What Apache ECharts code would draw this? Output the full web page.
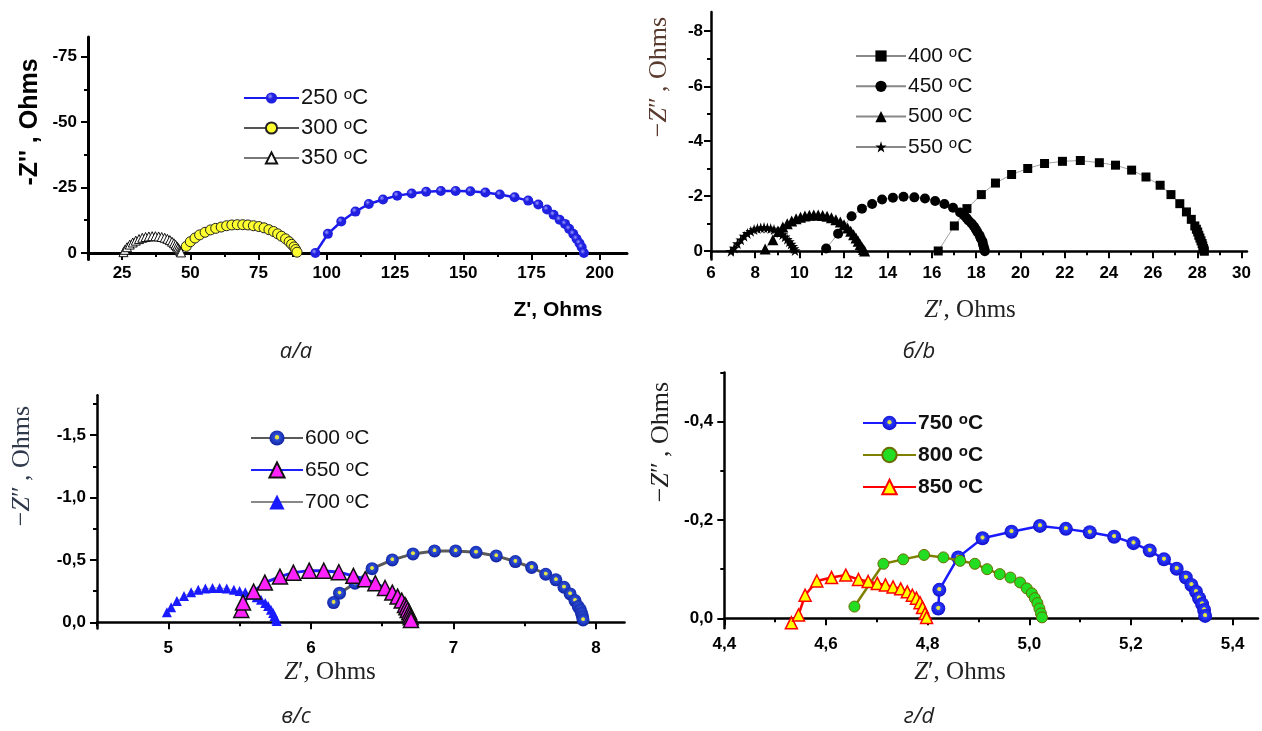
<!DOCTYPE html>
<html>
<head>
<meta charset="utf-8">
<script src="https://cdn.jsdelivr.net/npm/echarts@6/dist/echarts.min.js"></script>
<style>
html,body{margin:0;padding:0;background:#fff}
#main{width:1262px;height:731px}
</style>
</head>
<body>
<div id="main"></div>
<script>
// a/a : 250-350 oC, Z' and Z'' in Ohms
var a250 = [[95.8,0],[100.4,-7.3],[105.3,-12.0],[110.5,-15.8],[115.4,-18.7],[120.6,-20.4],[125.8,-21.9],[131.1,-22.7],[136.4,-23.4],[141.8,-23.7],[147.2,-23.7],[152.6,-23.6],[158.1,-23.1],[163.4,-22.3],[168.8,-21.3],[173.8,-20.0],[177.5,-18.5],[180.7,-16.6],[183.1,-14.6],[185.3,-12.7],[187.3,-11.1],[188.8,-9.2],[190.3,-7.3],[191.5,-5.4],[192.6,-3.7],[193.4,-2.2],[194.2,0]];
var a300 = [[48.5,-2.5],[50.0,-4.3],[51.7,-5.7],[53.4,-6.9],[55.4,-7.9],[57.4,-8.8],[59.3,-9.4],[61.3,-9.9],[63.3,-10.4],[65.2,-10.7],[67.2,-10.8],[69.2,-10.8],[71.1,-10.7],[73.1,-10.4],[75.1,-10.1],[77.0,-9.6],[78.8,-8.9],[80.5,-8.2],[82.0,-7.3],[83.4,-6.4],[84.9,-5.4],[86.2,-4.3],[87.1,-3.3],[88.0,-2.3],[88.6,-1.3],[89.1,-0.3]];
var a350 = [[25.5,-0.3],[26.0,-1.2],[26.8,-2.2],[27.8,-3.2],[28.9,-4.0],[30.0,-4.7],[31.2,-5.3],[32.4,-5.8],[33.6,-6.1],[34.8,-6.3],[36.0,-6.4],[37.2,-6.4],[38.4,-6.3],[39.5,-6.1],[40.6,-5.8],[41.6,-5.4],[42.5,-4.9],[43.3,-4.3],[44.0,-3.7],[44.6,-3.1],[45.1,-2.5],[45.5,-1.9],[45.9,-1.4],[46.2,-0.9],[46.4,-0.5],[46.6,-0.2]];

// б/b : 400-550 oC
var b400 = [[16.28,-0.01],[17.01,-0.92],[17.58,-1.55],[18.23,-2.06],[18.87,-2.48],[19.60,-2.79],[20.33,-3.01],[21.09,-3.19],[21.90,-3.27],[22.71,-3.30],[23.57,-3.22],[24.30,-3.13],[25.03,-2.95],[25.68,-2.70],[26.32,-2.40],[26.81,-2.06],[27.21,-1.73],[27.51,-1.43],[27.73,-1.16],[27.89,-0.92],[27.96,-0.80],[28.02,-0.70],[28.07,-0.58],[28.12,-0.48],[28.17,-0.38],[28.22,-0.28],[28.25,-0.19],[28.28,-0.10],[28.30,-0.05],[28.32,0]];
var b450 = [[11.21,-0.10],[11.75,-0.64],[12.36,-1.27],[12.83,-1.55],[13.29,-1.72],[13.74,-1.88],[14.23,-1.95],[14.71,-1.98],[15.20,-1.96],[15.68,-1.92],[16.14,-1.83],[16.56,-1.72],[16.95,-1.58],[17.27,-1.41],[17.45,-1.30],[17.56,-1.21],[17.65,-1.12],[17.79,-1.01],[17.90,-0.90],[17.98,-0.80],[18.05,-0.70],[18.15,-0.58],[18.20,-0.47],[18.28,-0.36],[18.30,-0.26],[18.34,-0.16],[18.37,-0.07],[18.39,0]];
var b500 = [[8.45,-0.08],[8.80,-0.42],[9.05,-0.72],[9.25,-0.88],[9.45,-1.00],[9.65,-1.10],[9.85,-1.18],[10.05,-1.24],[10.25,-1.28],[10.45,-1.31],[10.65,-1.32],[10.85,-1.32],[11.05,-1.30],[11.25,-1.27],[11.45,-1.22],[11.65,-1.15],[11.85,-1.06],[12.02,-0.96],[12.18,-0.85],[12.32,-0.73],[12.45,-0.60],[12.56,-0.48],[12.66,-0.36],[12.75,-0.25],[12.83,-0.15],[12.90,-0.06],[12.95,-0.01]];
var b550 = [[6.90,0],[7.05,-0.12],[7.20,-0.28],[7.35,-0.42],[7.50,-0.55],[7.65,-0.65],[7.80,-0.73],[7.95,-0.79],[8.10,-0.83],[8.25,-0.85],[8.40,-0.86],[8.55,-0.85],[8.70,-0.83],[8.85,-0.79],[9.00,-0.74],[9.12,-0.68],[9.24,-0.61],[9.35,-0.53],[9.45,-0.44],[9.54,-0.35],[9.62,-0.26],[9.69,-0.18],[9.75,-0.10],[9.80,-0.03]];

// в/c : 600-700 oC
var c600 = [[6.159,-0.158],[6.201,-0.233],[6.309,-0.313],[6.429,-0.430],[6.571,-0.500],[6.716,-0.548],[6.867,-0.572],[7.015,-0.572],[7.158,-0.561],[7.300,-0.532],[7.434,-0.487],[7.548,-0.439],[7.647,-0.385],[7.718,-0.340],[7.775,-0.281],[7.818,-0.227],[7.852,-0.174],[7.875,-0.126],[7.890,-0.100],[7.898,-0.072],[7.905,-0.045],[7.909,-0.019]];
var c650 = [[5.512,-0.099],[5.524,-0.158],[5.598,-0.246],[5.677,-0.318],[5.783,-0.366],[5.877,-0.398],[5.988,-0.414],[6.090,-0.414],[6.196,-0.401],[6.298,-0.372],[6.381,-0.345],[6.452,-0.313],[6.520,-0.275],[6.571,-0.238],[6.608,-0.206],[6.637,-0.174],[6.660,-0.139],[6.670,-0.120],[6.679,-0.099],[6.690,-0.080],[6.694,-0.059],[6.700,-0.040],[6.702,-0.019]];
var c700 = [[4.99,-0.08],[5.02,-0.12],[5.06,-0.17],[5.11,-0.21],[5.16,-0.24],[5.21,-0.26],[5.26,-0.27],[5.31,-0.275],[5.36,-0.275],[5.41,-0.27],[5.46,-0.26],[5.50,-0.25],[5.54,-0.24],[5.58,-0.22],[5.62,-0.20],[5.65,-0.18],[5.68,-0.155],[5.70,-0.13],[5.72,-0.10],[5.735,-0.075],[5.745,-0.05],[5.755,-0.025],[5.76,-0.01]];

// г/d : 750-850 oC
var d750 = [[4.821,-0.020],[4.823,-0.058],[4.860,-0.124],[4.908,-0.163],[4.965,-0.176],[5.021,-0.188],[5.072,-0.182],[5.119,-0.175],[5.167,-0.166],[5.205,-0.153],[5.237,-0.138],[5.265,-0.120],[5.290,-0.101],[5.308,-0.083],[5.319,-0.068],[5.328,-0.054],[5.334,-0.041],[5.340,-0.029],[5.344,-0.017],[5.346,-0.005]];
var d800 = [[4.656,-0.024],[4.713,-0.111],[4.752,-0.120],[4.793,-0.129],[4.831,-0.124],[4.864,-0.117],[4.893,-0.111],[4.917,-0.100],[4.942,-0.090],[4.963,-0.083],[4.982,-0.073],[4.995,-0.061],[5.005,-0.051],[5.011,-0.041],[5.016,-0.031],[5.020,-0.020],[5.023,-0.010],[5.025,-0.002]];
var d850 = [[4.532,0.009],[4.546,-0.007],[4.559,-0.047],[4.582,-0.076],[4.611,-0.083],[4.639,-0.088],[4.664,-0.079],[4.683,-0.075],[4.701,-0.071],[4.717,-0.068],[4.732,-0.064],[4.747,-0.060],[4.760,-0.054],[4.770,-0.047],[4.778,-0.041],[4.785,-0.032],[4.790,-0.022],[4.795,-0.010],[4.798,-0.002]];

// tick values
var aXMajor = [25, 50, 75, 100, 125, 150, 175, 200];
var aXMinor = [12.5, 37.5, 62.5, 87.5, 112.5, 137.5, 162.5, 187.5];
var aYMajor = [0, -25, -50, -75];
var aYMinor = [-12.5, -37.5, -62.5];
var bXMajor = [6, 8, 10, 12, 14, 16, 18, 20, 22, 24, 26, 28, 30];
var bXMinor = [7, 9, 11, 13, 15, 17, 19, 21, 23, 25, 27, 29];
var bYMajor = [0, -2, -4, -6, -8];
var bYMinor = [-1, -3, -5, -7];
var cXMajor = [5, 6, 7, 8];
var cXMinor = [4.5, 5.5, 6.5, 7.5];
var cYMajor = [0, -0.5, -1.0, -1.5];
var cYMinor = [-0.25, -0.75, -1.25, -1.75];
var dXMajor = [4.4, 4.6, 4.8, 5.0, 5.2, 5.4];
var dXMinor = [4.5, 4.7, 4.9, 5.1, 5.3];
var dYMajor = [0, -0.2, -0.4];
var dYMinor = [-0.1, -0.3, -0.5];

var SANS = 'Liberation Sans, Arial, sans-serif';
var SERIF = 'Liberation Serif, Times New Roman, serif';

function fmtInt(v) { return String(Math.round(v * 100) / 100); }
function fmtDec(v) { if (Math.abs(v) < 1e-9) v = 0; return v.toFixed(1).replace('.', ','); }

var grids = [
    {left: 88, top: 37, width: 539, height: 222.5},
    {left: 711, top: 12, width: 536, height: 247.5},
    {left: 97, top: 395.3, width: 527.6, height: 233.2},
    {left: 724.3, top: 372.5, width: 533.7, height: 255.7}
];

var xAxes = [];
var yAxes = [];
function addAxes(g, xr, yr, xMaj, xMin, yMaj, yMin, xFmt, yFmt, lw, xMargin, yMargin) {
    var base = {fontSize: 17, fontWeight: 'bold', fontFamily: SANS, color: '#000'};
    xAxes.push({
        type: 'value', gridIndex: g, position: 'bottom', min: xr[0], max: xr[1],
        axisLine: {show: true, onZero: true, onZeroAxisIndex: 2 * g, lineStyle: {color: '#000', width: lw}},
        axisTick: {show: true, customValues: xMaj, length: 7, lineStyle: {color: '#000', width: 2}},
        axisLabel: Object.assign({customValues: xMaj, formatter: xFmt, margin: xMargin}, base),
        splitLine: {show: false}
    });
    xAxes.push({
        type: 'value', gridIndex: g, position: 'bottom', min: xr[0], max: xr[1],
        axisLine: {show: false, onZero: true, onZeroAxisIndex: 2 * g},
        axisTick: {show: true, customValues: xMin, length: 4, lineStyle: {color: '#000', width: 2}},
        axisLabel: {show: false},
        splitLine: {show: false}
    });
    yAxes.push({
        type: 'value', gridIndex: g, position: 'left', inverse: true, min: yr[0], max: yr[1],
        axisLine: {show: true, onZero: false, lineStyle: {color: '#000', width: lw}},
        axisTick: {show: true, customValues: yMaj, length: 7, lineStyle: {color: '#000', width: 2}},
        axisLabel: Object.assign({customValues: yMaj, formatter: yFmt, margin: yMargin}, base),
        splitLine: {show: false}
    });
    yAxes.push({
        type: 'value', gridIndex: g, position: 'left', inverse: true, min: yr[0], max: yr[1],
        axisLine: {show: false, onZero: false},
        axisTick: {show: true, customValues: yMin, length: 4, lineStyle: {color: '#000', width: 2}},
        axisLabel: {show: false},
        splitLine: {show: false}
    });
}
addAxes(0, [12.5, 210], [-82.5, 2.5], aXMajor, aXMinor, aYMajor, aYMinor, fmtInt, fmtInt, 3, 5, 11);
addAxes(1, [6, 30.25], [-8.7, 0.3], bXMajor, bXMinor, bYMajor, bYMinor, fmtInt, fmtInt, 2.5, 5, 8);
addAxes(2, [4.5, 8.2], [-1.82, 0.05], cXMajor, cXMinor, cYMajor, cYMinor, fmtInt, fmtDec, 2.5, 11, 11);
addAxes(3, [4.4, 5.45], [-0.5, 0.02], dXMajor, dXMinor, dYMajor, dYMinor, fmtDec, fmtDec, 2.5, 8, 11);

function ball(c1, c2) {
    return {type: 'radial', x: 0.38, y: 0.35, r: 0.65,
        colorStops: [{offset: 0, color: c1}, {offset: 0.4, color: c2}, {offset: 1, color: c2}]};
}
function dotBall(c1, c2) {
    return {type: 'radial', x: 0.5, y: 0.45, r: 0.5,
        colorStops: [{offset: 0, color: '#f4f460'}, {offset: 0.26, color: '#cfcf40'},
                     {offset: 0.34, color: c1}, {offset: 1, color: c2}]};
}
var STAR = 'path://M50,0 L61,35 L98,35 L68,57 L79,91 L50,70 L21,91 L32,57 L2,35 L39,35 Z';

function ser(name, g, data, lineColor, lineW, symbol, size, fill, border, bw, z) {
    return {
        name: name, type: 'line', xAxisIndex: 2 * g, yAxisIndex: 2 * g, data: data,
        clip: false, smooth: false, z: z || 2,
        symbol: symbol, symbolSize: size, showAllSymbol: true,
        lineStyle: {color: lineColor, width: lineW},
        itemStyle: {color: fill, borderColor: border || fill, borderWidth: bw || 0, opacity: 1},
        emphasis: {disabled: true}
    };
}

var series = [
    ser('250 °C', 0, a250, '#1a1aee', 2.5, 'circle', 10, ball('#9a9aff', '#2020e0'), '#2020e0', 0),
    ser('300 °C', 0, a300, '#555', 3, 'circle', 10, '#ffff30', '#222', 1),
    ser('350 °C', 0, a350, '#777', 1, 'triangle', 9, '#fff', '#111', 1),
    ser('400 °C', 1, b400, '#888', 0.8, 'rect', 9, '#000'),
    ser('450 °C', 1, b450, '#888', 0.8, 'circle', 10, '#000'),
    ser('500 °C', 1, b500, '#888', 0.8, 'triangle', 11, '#000'),
    ser('550 °C', 1, b550, '#888', 0.8, STAR, 11, '#000'),
    ser('600 °C', 2, c600, '#5a5a5a', 3, 'circle', 13, dotBall('#2c4fd8', '#1428a8'), '#1428a8', 0, 3),
    ser('650 °C', 2, c650, '#2020ff', 3, 'triangle', 15, '#ff22ff', '#111', 1.5, 4),
    ser('700 °C', 2, c700, '#888', 0.8, 'triangle', 10, '#1a1aff', '#1a1aff', 0, 2),
    ser('750 °C', 3, d750, '#1a1aff', 2.5, 'circle', 14, dotBall('#2a3cff', '#1414d0'), '#1414d0', 0, 2),
    ser('800 °C', 3, d800, '#808000', 2.5, 'circle', 11, '#22dd22', '#6b6b00', 1, 3),
    ser('850 °C', 3, d850, '#ff0000', 2.5, 'triangle', 12, '#ffff00', '#ff0000', 1.5, 4)
];

function legendFor(names, left, top, gap, lineW, iconH, fs, bold) {
    var fw = bold ? 'bold' : 'normal';
    return {
        orient: 'vertical', left: left, top: top, padding: 0,
        itemWidth: lineW, itemHeight: iconH, itemGap: gap,
        data: names, selectedMode: false,
        formatter: function (n) { return '{t|' + n.replace(' °C', '') + ' }{s|o}{t|C}'; },
        textStyle: {
            padding: [0, 0, 0, -3],
            rich: {
                t: {fontSize: fs, fontFamily: SANS, fontWeight: fw, color: '#111', lineHeight: 22},
                s: {fontSize: 15, fontFamily: SANS, fontWeight: fw, color: '#111', verticalAlign: 'top', lineHeight: 15}
            }
        }
    };
}

var legends = [
    legendFor(['250 °C', '300 °C', '350 °C'], 243, 87, 8, 55, 14, 22, false),
    legendFor(['400 °C', '450 °C', '500 °C', '550 °C'], 855, 45, 8.8, 50, 14, 21, false),
    legendFor(['600 °C', '650 °C', '700 °C'], 250, 427, 10.5, 52, 19, 21, false),
    legendFor(['750 °C', '800 °C', '850 °C'], 862, 412, 10.5, 53, 18, 21, true)
];

function yName(x, y, st) {
    return {type: 'text', x: x, y: y, rotation: Math.PI / 2, z: 10, style: st};
}
function zText(prime, size, color) {
    return {
        text: (prime === 2 ? '\u2212' : '') + '{i|Z}{n|' + (prime === 2 ? '\u2033\u2009' : '\u2032') + ', Ohms}',
        textAlign: 'center', textVerticalAlign: 'middle',
        rich: {
            i: {fontFamily: SERIF, fontStyle: 'italic', fontSize: size, fill: color, color: color},
            n: {fontFamily: SERIF, fontSize: size, fill: color, color: color}
        },
        fontFamily: SERIF, fontSize: size, fill: color
    };
}
function caption(x, y, t) {
    return {type: 'text', x: x, y: y, z: 10,
        style: {text: t, fontFamily: 'Open Sans, Noto Sans, sans-serif', fontStyle: 'italic', fontSize: 22,
            fill: '#222', textAlign: 'center', textVerticalAlign: 'middle'}};
}

var graphics = [
    {type: 'text', x: 30, y: 122, rotation: Math.PI / 2, z: 10,
        style: {text: "-Z'' , Ohms", fontFamily: SANS, fontWeight: 'bold', fontSize: 25, fill: '#000',
            textAlign: 'center', textVerticalAlign: 'middle'}},
    {type: 'text', x: 558, y: 310, z: 10,
        style: {text: "Z', Ohms", fontFamily: SANS, fontWeight: 'bold', fontSize: 21, fill: '#000',
            textAlign: 'center', textVerticalAlign: 'middle'}},
    yName(659, 77, zText(2, 26, '#5a3b30')),
    {type: 'text', x: 970, y: 310, z: 10, style: zText(1, 25, '#222')},
    yName(22, 466, zText(2, 26, '#2f3a4c')),
    {type: 'text', x: 330, y: 672, z: 10, style: zText(1, 25, '#222')},
    yName(661, 442, zText(2, 26, '#222')),
    {type: 'text', x: 960, y: 672, z: 10, style: zText(1, 25, '#222')},
    caption(296, 352, '\u0430/a'),
    caption(919, 352, '\u0431/b'),
    caption(296, 717, '\u0432/c'),
    caption(919, 717, '\u0433/d')
];

var chart = echarts.init(document.getElementById('main'), null, {renderer: 'canvas'});
chart.setOption({
    backgroundColor: '#fff',
    animation: false,
    grid: grids,
    xAxis: xAxes,
    yAxis: yAxes,
    legend: legends,
    series: series,
    graphic: graphics
});
</script>
</body>
</html>
